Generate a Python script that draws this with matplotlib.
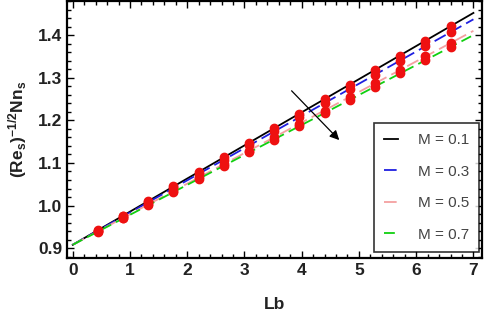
import matplotlib
matplotlib.use("Agg")
import matplotlib.pyplot as plt
from matplotlib.ticker import MultipleLocator

plt.rcParams['font.family'] = ['Liberation Sans', 'DejaVu Sans']
plt.rcParams['mathtext.fontset'] = 'custom'
plt.rcParams['mathtext.rm'] = 'Liberation Sans:bold'
plt.rcParams['mathtext.it'] = 'Liberation Sans:bold'
plt.rcParams['mathtext.bf'] = 'Liberation Sans:bold'

# line ends (x = 0 and x = 7)
line_x = [0, 7]
m_labels = ["M = 0.1", "M = 0.3", "M = 0.5", "M = 0.7"]
line_y = {
    "M = 0.1": [0.908, 1.452],
    "M = 0.3": [0.908, 1.437],
    "M = 0.5": [0.908, 1.410],
    "M = 0.7": [0.908, 1.400],
}

# red dots
dot_x = [0.44, 0.88, 1.32, 1.76, 2.20, 2.64, 3.08, 3.52, 3.96, 4.40, 4.84, 5.28, 5.72, 6.16, 6.60]
dot_m01 = [0.942, 0.976, 1.011, 1.045, 1.079, 1.113, 1.147, 1.181, 1.216, 1.250, 1.284, 1.318, 1.352, 1.387, 1.421]
dot_m03 = [0.941, 0.975, 1.008, 1.041, 1.074, 1.108, 1.141, 1.174, 1.207, 1.241, 1.274, 1.307, 1.340, 1.374, 1.407]
dot_m05 = [0.940, 0.971, 1.003, 1.034, 1.066, 1.097, 1.129, 1.160, 1.192, 1.223, 1.255, 1.287, 1.318, 1.350, 1.381]
dot_m07 = [0.939, 0.970, 1.001, 1.032, 1.063, 1.094, 1.125, 1.155, 1.186, 1.217, 1.248, 1.279, 1.310, 1.341, 1.372]

styles = {
    "M = 0.1": dict(color="black", ls="-", lw=1.3),
    "M = 0.3": dict(color="#1f1fe0", ls=(0, (7, 3)), lw=1.3),
    "M = 0.5": dict(color="#f4a0a0", ls=(0, (7, 3)), lw=1.3),
    "M = 0.7": dict(color="#10d010", ls=(0, (6, 3)), lw=1.3),
}

fig = plt.figure(figsize=(4.84, 3.12), dpi=100)
ax = fig.add_axes([67/484, 54/312, 415/484, 257/312])

for lab in m_labels:
    ax.plot(line_x, line_y[lab], label=lab, **styles[lab])

for d in (dot_m01, dot_m03, dot_m05, dot_m07):
    ax.plot(dot_x, d, 'o', color="#ee1111", ms=6, mec="#ee1111", zorder=5)

ax.annotate("", xy=(4.69, 1.149), xytext=(3.79, 1.274),
            arrowprops=dict(arrowstyle="-|>", color="black", lw=0.9,
                            mutation_scale=14))

ax.set_xlim(-0.1, 7.15)
ax.set_ylim(0.877, 1.48)
ax.xaxis.set_major_locator(MultipleLocator(1))
ax.xaxis.set_minor_locator(MultipleLocator(0.2))
ax.yaxis.set_major_locator(MultipleLocator(0.1))
ax.yaxis.set_minor_locator(MultipleLocator(0.02))
ax.yaxis.set_major_formatter(plt.FuncFormatter(lambda v, p: f"{v:.1f}"))
ax.tick_params(which="both", direction="in", top=True, right=True, width=1)
ax.tick_params(which="major", length=5, labelsize=12.5)
ax.tick_params(which="minor", length=3)
for t in ax.get_xticklabels() + ax.get_yticklabels():
    t.set_fontweight("bold")
    t.set_color("#222222")
for s in ax.spines.values():
    s.set_linewidth(1.6)

ax.set_xlabel("Lb", fontsize=12.5, fontweight="bold", color="#222222", labelpad=14)
ax.set_ylabel(r"(Re$_s$)$^{-1/2}$Nn$_s$", fontsize=12.5, fontweight="bold",
              color="#222222", labelpad=6)

leg = ax.legend(loc="upper left", bbox_to_anchor=(0.740, 0.525), fontsize=11,
                frameon=True, fancybox=False, edgecolor="black", handlelength=0.9,
                labelspacing=1.15, borderpad=0.65, handletextpad=1.3, borderaxespad=0)
leg.get_frame().set_linewidth(1.2)
for t in leg.get_texts():
    t.set_color("#444444")

fig.savefig("out.png", dpi=100)
